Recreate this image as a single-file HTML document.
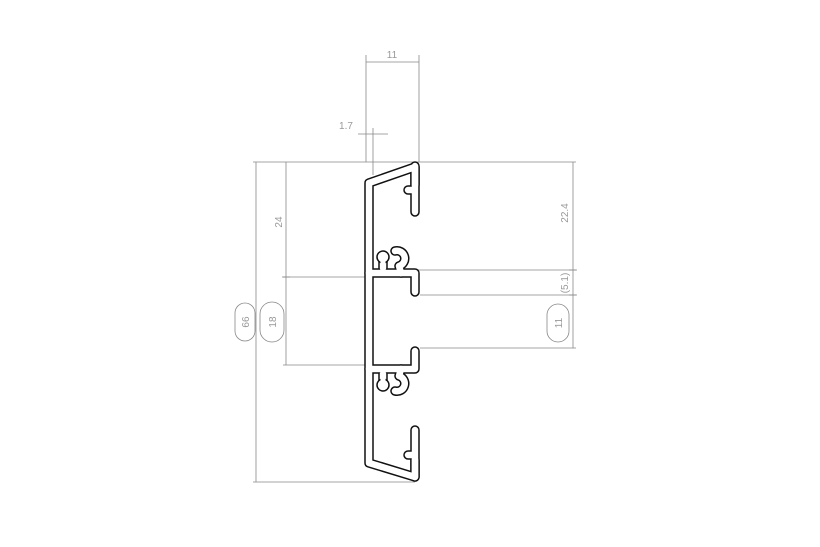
<!DOCTYPE html>
<html><head><style>
html,body{margin:0;padding:0;background:#fff;width:820px;height:547px;overflow:hidden}
svg{display:block}
text{font-family:"Liberation Sans",sans-serif;font-size:10px;fill:#999}
</style></head><body>
<svg width="820" height="547" viewBox="0 0 820 547" xmlns="http://www.w3.org/2000/svg">
<g stroke="#888" stroke-width="0.8" fill="none">
<line x1="253" y1="162" x2="576" y2="162"/>
<line x1="253" y1="482" x2="415" y2="482"/>
<line x1="256" y1="162" x2="256" y2="482"/>
<line x1="286" y1="162" x2="286" y2="365"/>
<line x1="283" y1="277" x2="366" y2="277"/>
<line x1="283" y1="365" x2="366" y2="365"/>
<line x1="573" y1="162" x2="573" y2="348"/>
<line x1="415" y1="270" x2="576" y2="270"/>
<line x1="420" y1="295" x2="576" y2="295"/>
<line x1="420" y1="348" x2="576" y2="348"/>
<line x1="366" y1="55" x2="366" y2="162"/>
<line x1="419" y1="55" x2="419" y2="162"/>
<line x1="366" y1="62" x2="419" y2="62"/>
<line x1="373" y1="128" x2="373" y2="175"/>
<line x1="358" y1="134" x2="388" y2="134"/>
<line x1="282" y1="277" x2="290" y2="277"/>
<line x1="569" y1="270" x2="577" y2="270"/>
<line x1="569" y1="295" x2="577" y2="295"/>
<rect x="235" y="303" width="20" height="38" rx="10"/>
<rect x="260" y="302" width="24" height="40" rx="12"/>
<rect x="547" y="304" width="22" height="38" rx="11"/>
</g>
<text x="392" y="58" text-anchor="middle">11</text>
<text x="346" y="129" text-anchor="middle">1.7</text>
<text transform="translate(282,222) rotate(-90)" text-anchor="middle">24</text>
<text transform="translate(568,213) rotate(-90)" text-anchor="middle">22.4</text>
<text transform="translate(568,283) rotate(-90)" text-anchor="middle">(5.1)</text>
<text transform="translate(249,322) rotate(-90)" text-anchor="middle">66</text>
<text transform="translate(276,322) rotate(-90)" text-anchor="middle">18</text>
<text transform="translate(562,323) rotate(-90)" text-anchor="middle">11</text>
<g fill="none" stroke-linecap="round" stroke-linejoin="round">
<g stroke="#111" stroke-width="9.5">
<path d="M415 185 L415 167 L369 183 L369 463 L415 477 L415 460"/>
<path d="M415 166 L415 212 M415 190 L408 190"/>
<path d="M415 430 L415 477 M415 455 L408 455"/>
<path d="M369 273 L415 273 L415 292"/>
<path d="M369 369 L415 369 L415 351"/>
<path d="M383 268 L383 260 M395 251 A7 7 0 0 1 399 266 L401 273"/>
<path d="M383 374 L383 382 M395 391 A7 7 0 0 0 399 376 L401 369"/>
</g>
<g stroke="#fff" stroke-width="6.5">
<path d="M415 185 L415 167 L369 183 L369 463 L415 477 L415 460"/>
<path d="M415 166 L415 212 M415 190 L408 190"/>
<path d="M415 430 L415 477 M415 455 L408 455"/>
<path d="M369 273 L415 273 L415 292"/>
<path d="M369 369 L415 369 L415 351"/>
<path d="M383 268 L383 260 M395 251 A7 7 0 0 1 399 266 L401 273"/>
<path d="M383 374 L383 382 M395 391 A7 7 0 0 0 399 376 L401 369"/>
</g>
<circle cx="383" cy="257" r="6" fill="#fff" stroke="#111" stroke-width="1.5"/>
<circle cx="383" cy="385" r="6" fill="#fff" stroke="#111" stroke-width="1.5"/>
<rect x="380.5" y="261" width="5" height="9" fill="#fff" stroke="none"/>
<rect x="380.5" y="372" width="5" height="9" fill="#fff" stroke="none"/>
</g>
</svg>
</body></html>
